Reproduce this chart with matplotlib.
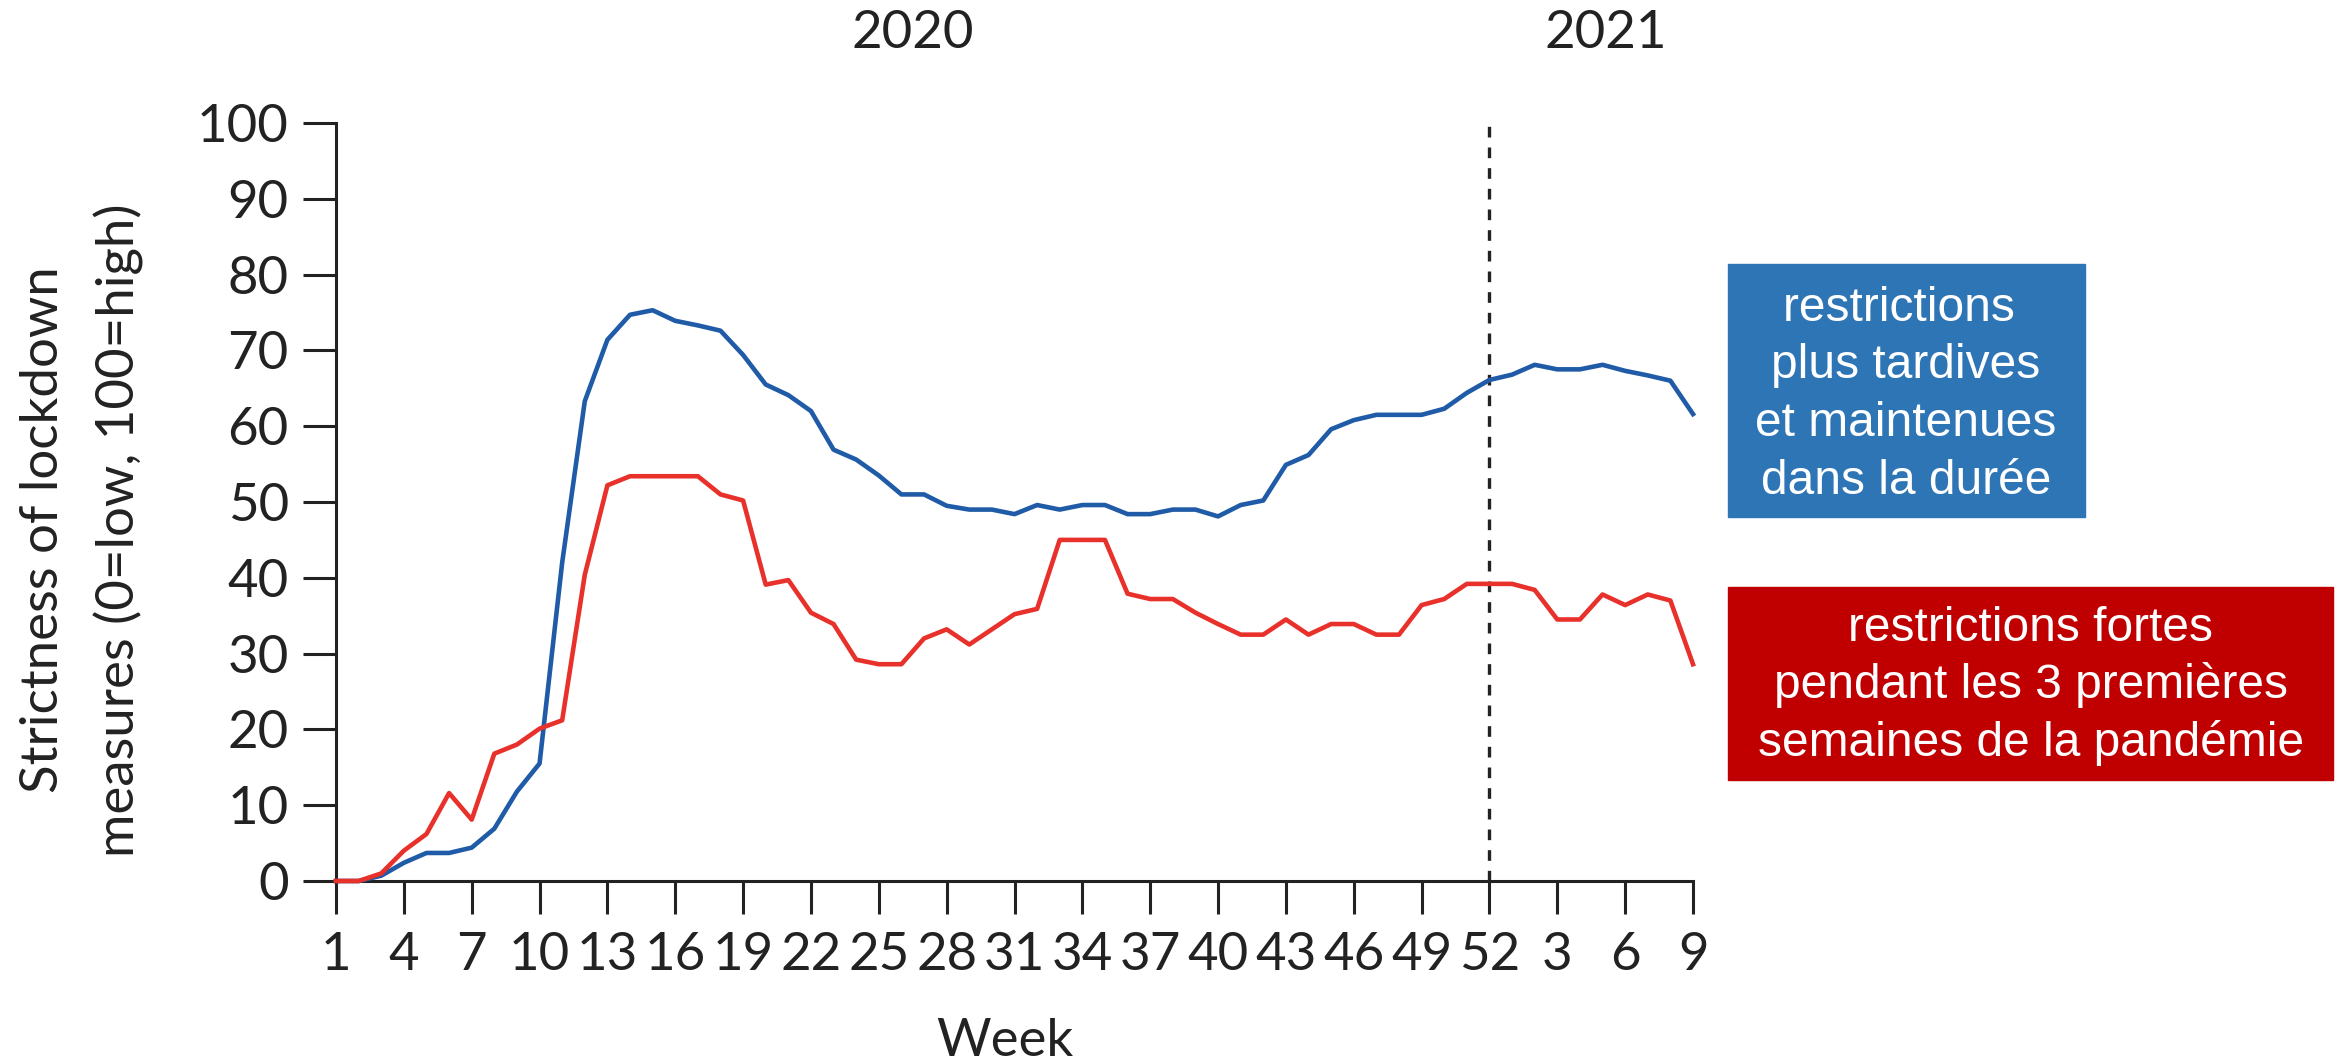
import matplotlib as mpl
mpl.use("Agg")
import matplotlib.pyplot as plt
from matplotlib.patches import Rectangle
import numpy as np

plt.rcParams['font.family'] = ['Lato', 'DejaVu Sans']

# weekly index of strictness, week 1 of 2020 to week 9 of 2021
weeks = np.arange(1, 62)
late_sustained = [0, 0, 0.7, 2.4, 3.7, 3.7, 4.4, 6.9, 11.8, 15.5,
                  42, 63.3, 71.4, 74.7, 75.3, 73.9, 73.3, 72.6, 69.4, 65.5,
                  64.1, 62.0, 56.9, 55.6, 53.5, 51.0, 51.0, 49.5, 49.0, 49.0,
                  48.4, 49.6, 49.0, 49.6, 49.6, 48.4, 48.4, 49.0, 49.0, 48.1,
                  49.6, 50.2, 54.9, 56.2, 59.6, 60.8, 61.5, 61.5, 61.5, 62.3,
                  64.4, 66.1, 66.8, 68.1, 67.5, 67.5, 68.1, 67.3, 66.7, 66.0,
                  61.6]
early_strong = [0, 0, 1.0, 4.0, 6.2, 11.6, 8.1, 16.8, 18.0, 20.1,
                21.2, 40.4, 52.2, 53.4, 53.4, 53.4, 53.4, 51.0, 50.2, 39.1,
                39.7, 35.4, 33.9, 29.2, 28.6, 28.6, 32.0, 33.2, 31.2, 33.2,
                35.2, 35.9, 45.0, 45.0, 45.0, 37.9, 37.2, 37.2, 35.4, 33.9,
                32.5, 32.5, 34.5, 32.5, 33.9, 33.9, 32.5, 32.5, 36.4, 37.2,
                39.2, 39.2, 39.2, 38.4, 34.5, 34.5, 37.8, 36.4, 37.8, 37.0,
                28.6]
tick_pos = np.arange(1, 62, 3)
tick_labels = [str(w) for w in range(1, 53, 3)] + ["3", "6", "9"]
year_break = 52

blue_box_lines = ["restrictions ", "plus tardives", "et maintenues", "dans la durée"]
red_box_lines = ["restrictions fortes", "pendant les 3 premières",
                 "semaines de la pandémie"]

W, H = 2346, 1063
fig = plt.figure(figsize=(W / 100, H / 100), dpi=100)
ax = fig.add_axes([336 / W, 1 - 881 / H, (1693 - 336) / W, (881 - 123) / H])

ax.plot(weeks, late_sustained, color='#1f5ba6', lw=3.3, clip_on=False,
        solid_joinstyle='round', zorder=3)
ax.plot(weeks, early_strong, color='#e8312b', lw=3.3, clip_on=False,
        solid_joinstyle='round', zorder=3)
ax.axvline(year_break, color='#222222', lw=2.4, linestyle=(0, (3.2, 3)), zorder=2)

ax.set_xlim(1, 61)
ax.set_ylim(0, 100)
ax.set_xticks(tick_pos)
ax.set_xticklabels(tick_labels)
ax.set_yticks(np.arange(0, 101, 10))
for s in ['top', 'right']:
    ax.spines[s].set_visible(False)
for s in ['left', 'bottom']:
    ax.spines[s].set_linewidth(2.2)
    ax.spines[s].set_color('#222222')
ax.tick_params(axis='both', direction='out', length=24, width=2.2,
               color='#222222', labelsize=38, labelcolor='#222222')
ax.tick_params(axis='x', pad=13)
ax.tick_params(axis='y', pad=10)

fig.text(82 / W, 1 - 530 / H, "Strictness of lockdown\nmeasures (0=low, 100=high)",
         rotation=90, ha='center', va='center', fontsize=38, color='#222222',
         linespacing=1.65)
fig.text(1005 / W, 1 - 1056 / H, "Week", ha='center', va='baseline',
         fontsize=38, color='#222222')
fig.text(913 / W, 1 - 33 / H, "2020", ha='center', va='center',
         fontsize=38, color='#222222')
fig.text(1606 / W, 1 - 33 / H, "2021", ha='center', va='center',
         fontsize=38, color='#222222')

# annotation boxes
fig.patches.append(Rectangle((1728 / W, 1 - 517 / H), 357 / W, 253 / H,
                             transform=fig.transFigure, color='#2e75b6'))
fig.patches.append(Rectangle((1728 / W, 1 - 780 / H), 605 / W, 193 / H,
                             transform=fig.transFigure, color='#c00000'))
for i, line in enumerate(blue_box_lines):
    fig.text(1906 / W, 1 - (321 + 57.5 * i) / H, line, ha='center', va='baseline',
             fontsize=34.5, color='white', family='Liberation Sans')
for i, line in enumerate(red_box_lines):
    fig.text(2031 / W, 1 - (641 + 57.5 * i) / H, line, ha='center', va='baseline',
             fontsize=34.5, color='white', family='Liberation Sans')

fig.savefig("out.png", dpi=100, facecolor='white')
